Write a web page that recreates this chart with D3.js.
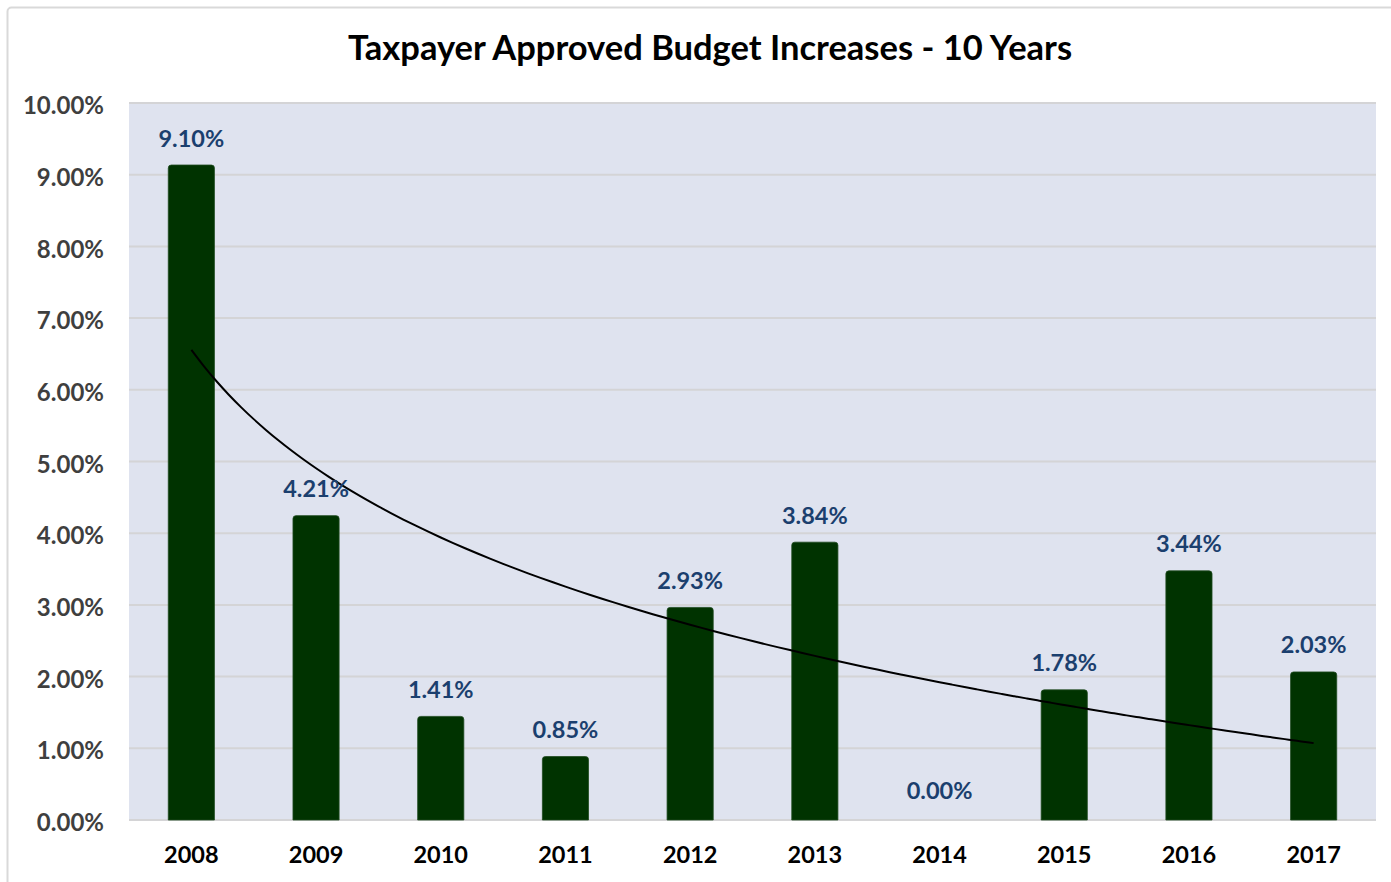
<!DOCTYPE html>
<html>
<head>
<meta charset="utf-8">
<script src="https://cdn.jsdelivr.net/npm/d3@7"></script>
<style>
  html, body { margin: 0; padding: 0; background: #fff; }
  svg { display: block; }
  text { font-family: Lato, "Open Sans", sans-serif; font-weight: 700; }
</style>
</head>
<body>
<svg id="chart" width="1391" height="882"></svg>
<script>
// Budget increases approved each year
const years = ["2008", "2009", "2010", "2011", "2012", "2013", "2014", "2015", "2016", "2017"];
const increases = [9.10, 4.21, 1.41, 0.85, 2.93, 3.84, 0.00, 1.78, 3.44, 2.03];
const yTicks = [0, 1, 2, 3, 4, 5, 6, 7, 8, 9, 10];
const titleText = "Taxpayer Approved Budget Increases - 10 Years";

const W = 1391, H = 882;
const plot = { left: 129, right: 1376, top: 103, bottom: 820 };

const svg = d3.select("#chart");

// outer chart frame
svg.append("rect")
  .attr("x", 7.5).attr("y", 7.5)
  .attr("width", W + 20).attr("height", H + 20)
  .attr("rx", 4)
  .attr("fill", "#fff")
  .attr("stroke", "#d9d9d9")
  .attr("stroke-width", 2);

const x = d3.scaleBand()
  .domain(years)
  .range([plot.left, plot.right])
  .paddingInner(0.63)
  .paddingOuter(0.315);

const y = d3.scaleLinear()
  .domain([0, 10])
  .range([plot.bottom, plot.top]);

// plot background
svg.append("rect")
  .attr("x", plot.left).attr("y", plot.top)
  .attr("width", plot.right - plot.left)
  .attr("height", plot.bottom - plot.top)
  .attr("fill", "#dfe3ef");

// gridlines
svg.append("g")
  .selectAll("line")
  .data(yTicks)
  .join("line")
  .attr("x1", plot.left).attr("x2", plot.right)
  .attr("y1", d => y(d)).attr("y2", d => y(d))
  .attr("stroke", "#d4d4d6")
  .attr("stroke-width", 2);

// y axis labels
const yAxis = d3.axisLeft(y)
  .tickValues(yTicks)
  .tickFormat(d => d.toFixed(2) + "%")
  .tickSize(0)
  .tickPadding(25);
const gy = svg.append("g")
  .attr("transform", `translate(${plot.left},0)`)
  .call(yAxis);
gy.select(".domain").remove();
gy.selectAll("text")
  .attr("font-family", "Lato, sans-serif")
  .attr("font-weight", 700)
  .attr("font-size", 24)
  .attr("fill", "#3f3f3f")
  .attr("y", 3);

// x axis labels
const xAxis = d3.axisBottom(x).tickSize(0).tickPadding(26);
const gx = svg.append("g")
  .attr("transform", `translate(0,${plot.bottom})`)
  .call(xAxis);
gx.select(".domain").remove();
gx.selectAll("text")
  .attr("font-family", "Lato, sans-serif")
  .attr("font-weight", 700)
  .attr("font-size", 23.5)
  .attr("fill", "#000");

// bars with slightly rounded tops; a thin outline lifts the top edge a little
const r = 3;
const lift = 2.5;
function barPath(d, i) {
  const x0 = x(years[i]), w = x.bandwidth();
  const yt = y(d) - lift, yb = y(0);
  if (d === 0) return `M${x0},${yb}Z`;
  return `M${x0},${yb}V${yt + r}Q${x0},${yt} ${x0 + r},${yt}H${x0 + w - r}Q${x0 + w},${yt} ${x0 + w},${yt + r}V${yb}Z`;
}
svg.append("g")
  .selectAll("path")
  .data(increases)
  .join("path")
  .attr("d", barPath)
  .attr("fill", "#003300")
  .attr("stroke", "#1e4a1e")
  .attr("stroke-width", 0.8);

// logarithmic trendline: y = a + b ln(n), n = 1..10
const lx = increases.map((_, i) => Math.log(i + 1));
const mx = d3.mean(lx), my = d3.mean(increases);
const b = d3.sum(lx, (v, i) => (v - mx) * (increases[i] - my)) / d3.sum(lx, v => (v - mx) ** 2);
const a = my - b * mx;
const trendPts = d3.range(0, 9.001, 0.1).map(t => {
  const n = t + 1;
  const xpos = x(years[0]) + x.bandwidth() / 2 + t * x.step();
  return [xpos, y(a + b * Math.log(n))];
});
svg.append("path")
  .attr("d", d3.line().curve(d3.curveMonotoneX)(trendPts))
  .attr("fill", "none")
  .attr("stroke", "#000")
  .attr("stroke-width", 2);

// value labels
svg.append("g")
  .selectAll("text")
  .data(increases)
  .join("text")
  .attr("x", (d, i) => x(years[i]) + x.bandwidth() / 2)
  .attr("y", d => y(d) - 21)
  .attr("text-anchor", "middle")
  .attr("font-size", 23.5)
  .attr("fill", "#1b3f6e")
  .text(d => d.toFixed(2) + "%");

// title
svg.append("text")
  .attr("x", 710)
  .attr("y", 60)
  .attr("text-anchor", "middle")
  .attr("font-size", 34.5)
  .attr("fill", "#000")
  .text(titleText);
</script>
</body>
</html>
